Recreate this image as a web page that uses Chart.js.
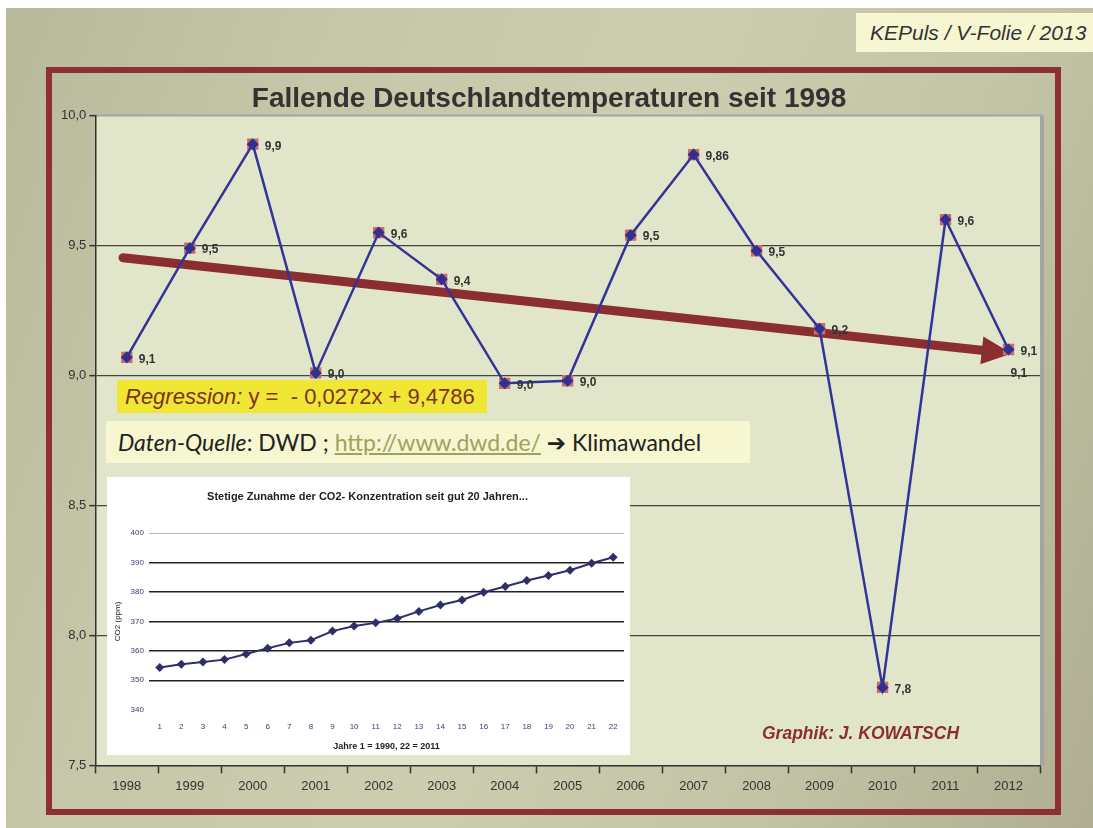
<!DOCTYPE html>
<html>
<head>
<meta charset="utf-8">
<script src="https://cdn.jsdelivr.net/npm/chart.js@4.4.0/dist/chart.umd.min.js"></script>
<style>
  body { margin: 0; background: #fff; }
  #wrap { position: relative; width: 1093px; height: 828px; overflow: hidden;
    background: linear-gradient(110deg, #b8b89b 0%, #c6c6a8 25%, #cdcdaf 50%, #c3c3a5 75%, #afae92 100%); }
  #topstrip { position: absolute; left: 0; top: 0; width: 1093px; height: 8px; background: #fff; }
  #leftstrip { position: absolute; left: 0; top: 0; width: 6px; height: 828px; background: #fff; }
  #frame { position: absolute; left: 46px; top: 67px; width: 1015px; height: 748px;
    box-sizing: border-box; border: 6px solid #8e2f35; }
  canvas { position: absolute; left: 0; top: 0; }
  .box { position: absolute; box-sizing: border-box; white-space: nowrap; }
  #stamp { left: 856px; top: 13px; width: 237px; height: 39px; background: #f6f6d2;
    font: italic 21px "Liberation Sans", Arial, sans-serif; color: #333; line-height: 39px; padding-left: 14px; }
  #regr { left: 117px; top: 380px; width: 370px; height: 33px; background: #f0e634;
    font: 22px "Liberation Sans", Arial, sans-serif; color: #7a3326; line-height: 33px; padding-left: 8px; }
  #source { left: 106px; top: 421px; width: 644px; height: 42px; background: #f6f6d0;
    font: 23px Lato, "Open Sans", sans-serif; color: #222; line-height: 42px; padding-left: 12px; }
  #source a { color: #a0a060; text-decoration: underline; }
  #credit { left: 762px; top: 723px; font: italic bold 17.5px "Liberation Sans", Arial, sans-serif; color: #8b2e32; }
  #inset { left: 107px; top: 477px; width: 523px; height: 278px; background: #fff; }
</style>
</head>
<body>
<div id="wrap">
  <div id="topstrip"></div>
  <div id="leftstrip"></div>
  <div id="frame"></div>
  <canvas id="main" width="1093" height="828"></canvas>
  <div class="box" id="stamp">KEPuls / V-Folie / 2013</div>
  <div class="box" id="regr"><i>Regression:</i> y =&nbsp; - 0,0272x + 9,4786</div>
  <div class="box" id="source"><i>Daten-Quelle</i>: DWD ; <a>http://www.dwd.de/</a> <span style="font-family:'DejaVu Sans'">➔</span> Klimawandel</div>
  <div class="box" id="inset"><canvas id="co2" width="523" height="278"></canvas></div>
  <div class="box" id="credit">Graphik: J. KOWATSCH</div>
</div>
<script>
// main chart data
const years = ['1998', '1999', '2000', '2001', '2002', '2003', '2004', '2005', '2006', '2007', '2008', '2009', '2010', '2011', '2012'];
const temps = [9.07, 9.49, 9.89, 9.01, 9.55, 9.37, 8.97, 8.98, 9.54, 9.85, 9.48, 9.18, 7.80, 9.60, 9.10];
const tempLabels = ['9,1', '9,5', '9,9', '9,0', '9,6', '9,4', '9,0', '9,0', '9,5', '9,86', '9,5', '9,2', '7,8', '9,6', '9,1'];
const tempLabelsBelow = [null, null, null, null, null, null, null, null, null, null, null, null, null, null, '9,1'];
const yMin = 7.5, yMax = 10.0, yStep = 0.5;
// regression y = a*x + b, x = 1 for 1998
const regSlope = -0.0272;
const regIntercept = 9.4786;

// inset chart data
const co2Years = ['1', '2', '3', '4', '5', '6', '7', '8', '9', '10', '11', '12', '13', '14', '15', '16', '17', '18', '19', '20', '21', '22'];
const co2 = [354.3, 355.4, 356.2, 357.0, 358.9, 360.9, 362.7, 363.6, 366.7, 368.4, 369.5, 371.0, 373.4, 375.6, 377.3, 379.9, 381.9, 383.9, 385.6, 387.4, 389.8, 391.8];
const co2Min = 340, co2Max = 400, co2Step = 10;

const FONT = '"Liberation Sans", Arial, sans-serif';

// plot area fill + grey top/right edge
const plotBg = {
  id: 'plotBg',
  beforeDraw(chart) {
    const { ctx, chartArea: a } = chart;
    ctx.save();
    ctx.fillStyle = '#e1e6ca';
    ctx.fillRect(a.left, a.top, a.right - a.left, a.bottom - a.top);
    ctx.strokeStyle = '#a4a4a4';
    ctx.lineWidth = 2;
    ctx.beginPath();
    ctx.moveTo(a.left, a.top);
    ctx.lineTo(a.right + 2, a.top);
    ctx.stroke();
    ctx.lineWidth = 4;
    ctx.beginPath();
    ctx.moveTo(a.right + 2, a.top);
    ctx.lineTo(a.right + 2, a.bottom);
    ctx.stroke();
    ctx.restore();
  }
};

// thick regression arrow, under the data line
const regArrow = {
  id: 'regArrow',
  beforeDatasetsDraw(chart) {
    const { ctx, scales: { x, y } } = chart;
    const x0 = 0.94, x1 = 15.05;
    const px0 = x.getPixelForValue(x0 - 1), py0 = y.getPixelForValue(regSlope * x0 + regIntercept);
    const px1 = x.getPixelForValue(x1 - 1), py1 = y.getPixelForValue(regSlope * x1 + regIntercept) - 4;
    const ang = Math.atan2(py1 - py0, px1 - px0);
    const headLen = 30, headHalf = 14;
    const bx = px1 - headLen * Math.cos(ang), by = py1 - headLen * Math.sin(ang);
    ctx.save();
    ctx.strokeStyle = '#8b2e32';
    ctx.fillStyle = '#8b2e32';
    ctx.lineWidth = 9;
    ctx.lineCap = 'round';
    ctx.beginPath();
    ctx.moveTo(px0, py0);
    ctx.lineTo(bx + 2 * Math.cos(ang), by + 2 * Math.sin(ang));
    ctx.stroke();
    ctx.beginPath();
    ctx.moveTo(px1, py1);
    ctx.lineTo(bx - headHalf * Math.sin(ang), by + headHalf * Math.cos(ang));
    ctx.lineTo(bx + headHalf * Math.sin(ang), by - headHalf * Math.cos(ang));
    ctx.closePath();
    ctx.fill();
    ctx.restore();
  }
};

// value labels next to the points
const valueLabels = {
  id: 'valueLabels',
  afterDatasetsDraw(chart) {
    const { ctx } = chart;
    const meta = chart.getDatasetMeta(0);
    ctx.save();
    ctx.font = 'bold 12px ' + FONT;
    ctx.fillStyle = '#333';
    ctx.textBaseline = 'middle';
    ctx.textAlign = 'left';
    meta.data.forEach((pt, i) => {
      ctx.fillText(tempLabels[i], pt.x + 12, pt.y + 2);
      if (tempLabelsBelow[i]) ctx.fillText(tempLabelsBelow[i], pt.x + 2, pt.y + 24);
    });
    ctx.restore();
  }
};

new Chart(document.getElementById('main'), {
  type: 'line',
  data: {
    labels: years,
    datasets: [{
      data: temps,
      borderColor: '#333399',
      borderWidth: 2.5,
      pointStyle: 'rectRot',
      pointRadius: 6,
      pointBackgroundColor: '#2e3192',
      pointBorderWidth: 0,
      tension: 0,
      order: 0
    }, {
      data: temps,
      showLine: false,
      pointStyle: 'rect',
      pointRadius: 8,
      pointBackgroundColor: '#d06a64',
      pointBorderWidth: 0,
      order: 1
    }]
  },
  options: {
    responsive: false,
    animation: false,
    layout: { padding: { left: 58, right: 53, top: 82, bottom: 29 } },
    plugins: {
      legend: { display: false },
      tooltip: { enabled: false },
      title: {
        display: true,
        text: 'Fallende Deutschlandtemperaturen seit 1998',
        color: '#333',
        font: { family: FONT, size: 28, weight: 'bold' },
        padding: { top: 0, bottom: 0 }
      }
    },
    scales: {
      x: {
        offset: true,
        grid: { offset: true, drawOnChartArea: false, drawTicks: true, tickLength: 8, tickColor: '#333', tickWidth: 1.5 },
        border: { display: true, color: '#333', width: 1.5 },
        ticks: { color: '#333', font: { family: FONT, size: 13 }, padding: 5 }
      },
      y: {
        min: yMin,
        max: yMax,
        ticks: {
          stepSize: yStep,
          color: '#333',
          font: { family: FONT, size: 13 },
          padding: 3,
          callback: v => v.toFixed(1).replace('.', ',')
        },
        grid: {
          color: c => (c.tick && (c.tick.value === yMin || c.tick.value === yMax)) ? 'rgba(0,0,0,0)' : '#444',
          lineWidth: 1.3,
          tickLength: 6,
          tickColor: '#333',
          tickWidth: 1.5
        },
        border: { display: true, color: '#333', width: 1.5 }
      }
    }
  },
  plugins: [plotBg, regArrow, valueLabels]
});

new Chart(document.getElementById('co2'), {
  type: 'line',
  data: {
    labels: co2Years,
    datasets: [{
      data: co2,
      borderColor: '#2e2e6a',
      borderWidth: 2,
      pointStyle: 'rectRot',
      pointRadius: 4.5,
      pointBackgroundColor: '#2e2e6a',
      pointBorderWidth: 0,
      tension: 0
    }]
  },
  options: {
    responsive: false,
    animation: false,
    layout: { padding: { left: 4, right: 6, top: 0, bottom: 3 } },
    plugins: {
      legend: { display: false },
      tooltip: { enabled: false },
      title: {
        display: true,
        text: 'Stetige Zunahme der CO2- Konzentration seit gut 20 Jahren...',
        color: '#222',
        font: { family: FONT, size: 11, weight: 'bold' },
        padding: { top: 13, bottom: 30 }
      }
    },
    scales: {
      x: {
        offset: true,
        grid: { display: false },
        border: { display: false },
        ticks: { color: '#3a3a7a', font: { family: FONT, size: 8 }, padding: 4, maxRotation: 0, autoSkip: false },
        title: { display: true, text: 'Jahre 1 = 1990, 22 = 2011', color: '#222', font: { family: FONT, size: 9, weight: 'bold' }, padding: { top: 6, bottom: 0 } }
      },
      y: {
        min: co2Min,
        max: co2Max,
        ticks: { stepSize: co2Step, color: '#3a3a7a', font: { family: FONT, size: 8 }, padding: 5 },
        grid: {
          drawTicks: false,
          color: c => c.tick.value === co2Max ? '#b8b8b8' : (c.tick.value === co2Min ? 'rgba(0,0,0,0)' : '#222'),
          lineWidth: c => c.tick.value === co2Max ? 1 : 1.4
        },
        border: { display: false },
        title: { display: true, text: 'CO2 (ppm)', color: '#222', font: { family: FONT, size: 8 }, padding: { top: 2, bottom: 3 } }
      }
    }
  }
});
</script>
</body>
</html>
